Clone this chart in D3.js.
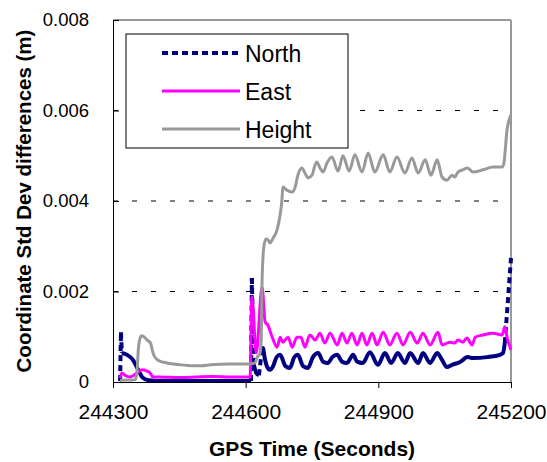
<!DOCTYPE html>
<html>
<head>
<meta charset="utf-8">
<script src="https://cdn.jsdelivr.net/npm/d3@7"></script>
<style>
  body { margin: 0; background: #fff; }
  svg { display: block; font-family: "Liberation Sans", Arial, sans-serif; }
</style>
</head>
<body>
<div id="chart"></div>
<script>
// GPS time (s) and std dev differences (m)
var northTime = [244316, 244318, 244320, 244332, 244345, 244357, 244366, 244380, 244420, 244500, 244612, 244614, 244618, 244624, 244630, 244636, 244639, 244643, 244648, 244655, 244662, 244670, 244678, 244690, 244700, 244710, 244718, 244730, 244741, 244752, 244764, 244775, 244786, 244796, 244807, 244818, 244829, 244843, 244852, 244865, 244881, 244899, 244915, 244929, 244944, 244960, 244972, 244990, 245001, 245017, 245033, 245044, 245055, 245067, 245085, 245102, 245114, 245146, 245175, 245182, 245186, 245200];
var northVals = [0.00002, 0.0011, 0.00064, 0.0006, 0.00049, 0.00027, 0.00011, 0.00004, 0.00002, 0.00002, 0.00002, 0.0023, 0.0004, 0.0002, 0.00015, 0.00064, 0.00075, 0.00053, 0.00035, 0.00027, 0.00035, 0.00055, 0.0006, 0.00035, 0.00031, 0.00055, 0.0006, 0.00035, 0.00031, 0.00055, 0.00064, 0.00045, 0.00042, 0.00055, 0.0006, 0.00045, 0.00042, 0.0006, 0.00045, 0.00042, 0.00066, 0.00038, 0.00064, 0.00042, 0.00064, 0.00042, 0.00064, 0.00042, 0.00064, 0.00042, 0.00064, 0.00049, 0.00033, 0.00038, 0.00044, 0.00055, 0.00053, 0.00055, 0.0006, 0.00064, 0.00086, 0.00274];

var eastTime = [244316, 244320, 244327, 244338, 244357, 244366, 244377, 244384, 244390, 244402, 244452, 244526, 244565, 244610, 244614, 244624, 244637, 244644, 244650, 244660, 244671, 244678, 244684, 244696, 244705, 244716, 244725, 244734, 244745, 244757, 244768, 244779, 244791, 244807, 244818, 244829, 244840, 244852, 244863, 244874, 244886, 244897, 244911, 244926, 244942, 244956, 244972, 244988, 245001, 245017, 245035, 245044, 245062, 245073, 245080, 245091, 245100, 245112, 245119, 245137, 245159, 245180, 245186, 245191, 245200];
var eastVals = [0.00009, 0.0002, 0.00015, 0.00011, 0.00022, 0.00027, 0.00024, 0.0002, 0.00011, 0.00011, 0.0001, 0.00012, 0.00011, 0.00011, 0.00188, 0.00064, 0.0021, 0.00133, 0.00126, 0.00099, 0.00077, 0.00099, 0.00088, 0.00099, 0.00077, 0.00099, 0.00099, 0.00077, 0.00104, 0.00093, 0.00108, 0.00086, 0.00108, 0.00082, 0.00108, 0.00086, 0.00108, 0.00082, 0.00108, 0.00082, 0.00108, 0.00082, 0.0011, 0.00082, 0.00108, 0.00082, 0.0011, 0.00086, 0.00108, 0.00082, 0.0011, 0.00082, 0.00088, 0.00086, 0.00093, 0.00088, 0.00097, 0.00082, 0.00099, 0.00104, 0.00108, 0.00104, 0.00122, 0.00099, 0.00071];

var heightTime = [244316, 244350, 244354, 244358, 244364, 244370, 244378, 244385, 244389, 244393, 244402, 244422, 244452, 244481, 244500, 244520, 244565, 244605, 244621, 244626, 244632, 244635, 244637, 244641, 244646, 244652, 244655, 244662, 244671, 244678, 244682, 244684, 244693, 244705, 244712, 244718, 244727, 244734, 244741, 244750, 244757, 244761, 244768, 244775, 244784, 244795, 244809, 244820, 244834, 244847, 244863, 244877, 244892, 244911, 244926, 244942, 244960, 244976, 244990, 245006, 245019, 245033, 245044, 245055, 245067, 245073, 245080, 245091, 245102, 245114, 245137, 245159, 245180, 245184, 245191, 245198, 245200];
var heightVals = [0.00004, 0.00005, 0.0002, 0.0008, 0.00102, 0.001, 0.00092, 0.00086, 0.0007, 0.00058, 0.00048, 0.00042, 0.00038, 0.00036, 0.00036, 0.00038, 0.0004, 0.0004, 0.00042, 0.00055, 0.00062, 0.0009, 0.0022, 0.00298, 0.00316, 0.00312, 0.00307, 0.00318, 0.00336, 0.0037, 0.00402, 0.00431, 0.00424, 0.0042, 0.00431, 0.00457, 0.00473, 0.00462, 0.00451, 0.00457, 0.0048, 0.00486, 0.00473, 0.00464, 0.00484, 0.00497, 0.00466, 0.005, 0.00466, 0.00502, 0.00464, 0.00506, 0.00464, 0.00502, 0.00464, 0.00497, 0.00462, 0.00495, 0.00462, 0.00491, 0.00457, 0.00491, 0.00453, 0.00446, 0.00457, 0.00453, 0.00464, 0.00469, 0.00473, 0.00464, 0.00469, 0.00475, 0.00475, 0.00484, 0.00557, 0.00586, 0.0059];

var seriesNames = ["North", "East", "Height"];
var xTicks = [244300, 244600, 244900, 245200];
var yTicks = [0, 0.002, 0.004, 0.006, 0.008];

var width = 547, height = 462;
var margin = {top: 20, right: 36, bottom: 80, left: 113};

var svg = d3.select("#chart").append("svg")
  .attr("width", width).attr("height", height);

var x = d3.scaleLinear().domain([244300, 245200]).range([margin.left, width - margin.right]);
var y = d3.scaleLinear().domain([0, 0.008]).range([height - margin.bottom, margin.top]);

// gridlines
svg.append("g").selectAll("line")
  .data(yTicks.filter(function(d){ return d > 0 && d < 0.008; }))
  .enter().append("line")
  .attr("x1", x.range()[0]).attr("x2", x.range()[1])
  .attr("y1", function(d){ return y(d); }).attr("y2", function(d){ return y(d); })
  .style("stroke", "#000").style("stroke-width", 1).style("stroke-dasharray", "5,14");

// plot frame, top and right in grey
svg.append("line")
  .attr("x1", x.range()[0]).attr("x2", x.range()[1])
  .attr("y1", y(0.008)).attr("y2", y(0.008))
  .style("stroke", "#999").style("stroke-width", 2);
svg.append("line")
  .attr("x1", x.range()[1]).attr("x2", x.range()[1])
  .attr("y1", y(0.008)).attr("y2", y(0))
  .style("stroke", "#999").style("stroke-width", 2);

function toPoints(ts, vs){
  return ts.map(function(t, i){ return [x(t), y(vs[i])]; });
}

var smooth = d3.line().curve(d3.curveMonotoneX);

// Excel restarts the dash on every segment: steep jumps show dashed, dense bits look solid
function drawSeries(pts, color, w, dash){
  var g = svg.append("g");
  function solid(group){
    g.append("path").attr("d", smooth(group))
      .style("fill", "none").style("stroke", color).style("stroke-width", w)
      .style("stroke-linejoin", "round");
  }
  if (!dash) { solid(pts); return; }
  var group = [pts[0]];
  for (var i = 1; i < pts.length; i++) {
    var dy = Math.abs(pts[i][1] - pts[i-1][1]);
    if (dy > 16) {
      if (group.length > 1) solid(group);
      g.append("line")
        .attr("x1", pts[i-1][0]).attr("y1", pts[i-1][1])
        .attr("x2", pts[i][0]).attr("y2", pts[i][1])
        .style("stroke", color).style("stroke-width", w)
        .style("stroke-dasharray", dash);
      group = [pts[i]];
    } else {
      group.push(pts[i]);
    }
  }
  if (group.length > 1) solid(group);
}

drawSeries(toPoints(northTime, northVals), "#000080", 4, "6,4");
drawSeries(toPoints(eastTime, eastVals), "#ff00ff", 3, null);
drawSeries(toPoints(heightTime, heightVals), "#999999", 3, null);

// axes
var yAxis = d3.axisLeft(y).tickValues(yTicks)
  .tickSizeInner(-6).tickSizeOuter(0).tickPadding(24)
  .tickFormat(function(d){ return d === 0 ? "0" : d3.format(".3f")(d); });
var gy = svg.append("g").attr("transform", "translate(" + margin.left + ",0)").call(yAxis);
gy.selectAll("text").style("font-size", "18.5px").style("fill", "#000");
gy.selectAll("line, path").style("stroke", "#000");

var xAxis = d3.axisBottom(x).tickValues(xTicks)
  .tickSizeInner(6).tickSizeOuter(0).tickPadding(16)
  .tickFormat(d3.format("d"));
var gx = svg.append("g").attr("transform", "translate(0," + y(0) + ")").call(xAxis);
gx.selectAll("text").style("font-size", "21px").style("fill", "#000");
gx.selectAll("line, path").style("stroke", "#000");

// axis titles
svg.append("text")
  .attr("transform", "translate(31," + ((y(0) + y(0.008)) / 2) + ") rotate(-90)")
  .attr("text-anchor", "middle")
  .style("font-size", "20.5px").style("font-weight", "bold")
  .text("Coordinate Std Dev differences (m)");

svg.append("text")
  .attr("x", (x.range()[0] + x.range()[1]) / 2).attr("y", 456)
  .attr("text-anchor", "middle")
  .style("font-size", "21px").style("font-weight", "bold")
  .text("GPS Time (Seconds)");

// legend
var legend = svg.append("g");
legend.append("rect")
  .attr("x", 126).attr("y", 34).attr("width", 222).attr("height", 114)
  .style("fill", "#fff").style("stroke", "#000").style("stroke-width", 1);

var legendStyle = [
  {color: "#000080", w: 4, dash: "6,4"},
  {color: "#ff00ff", w: 3, dash: null},
  {color: "#999999", w: 3, dash: null}
];

var rows = legend.selectAll(".row").data(seriesNames).enter().append("g")
  .attr("transform", function(d, i){ return "translate(0," + (53 + i * 38) + ")"; });
rows.append("line")
  .attr("x1", 162).attr("x2", 240).attr("y1", 0).attr("y2", 0)
  .style("stroke", function(d, i){ return legendStyle[i].color; })
  .style("stroke-width", function(d, i){ return legendStyle[i].w; })
  .style("stroke-dasharray", function(d, i){ return legendStyle[i].dash; });
rows.append("text")
  .attr("x", 245).attr("y", 9)
  .style("font-size", "23px")
  .text(function(d){ return d; });
</script>
</body>
</html>
